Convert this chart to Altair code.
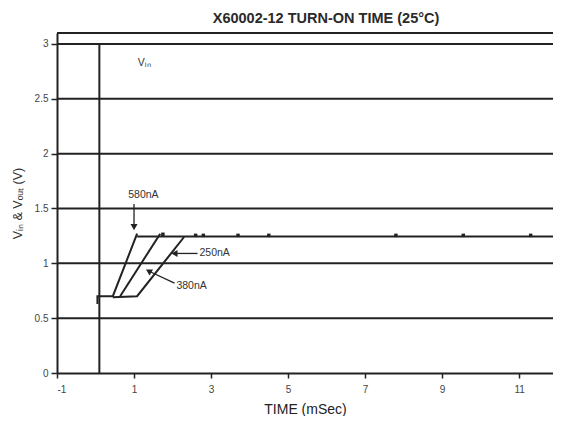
import altair as alt
import pandas as pd

# ---- data ----
grid_levels = [0.5, 1.0, 1.5, 2.0, 2.5, 3.0, 3.1]
x_ticks = [-1, 1, 3, 5, 7, 9, 11]
y_ticks = [0, 0.5, 1, 1.5, 2, 2.5, 3]

vin_x = [0.1, 0.1]
vin_y = [0.0, 3.0]

c580_x = [0.05, 0.05, 0.45, 1.08]
c580_y = [0.63, 0.70, 0.70, 1.27]
c250_x = [0.64, 1.68]
c250_y = [0.70, 1.27]
c380_x = [0.45, 1.08, 2.30]
c380_y = [0.69, 0.70, 1.24]

flat_x = [1.08, 12.2]
flat_y = [1.245, 1.245]

bump_x = [1.75, 2.6, 2.8, 3.7, 4.5, 7.8, 9.55, 11.3]
bump_y = [1.265, 1.255, 1.255, 1.255, 1.255, 1.255, 1.255, 1.255]

labels = ["V\u1d62\u2099", "580nA", "250nA", "380nA"]
label_x = [1.1, 0.85, 2.7, 2.1]
label_y = [2.83, 1.62, 1.09, 0.79]

arrow_x1 = [1.0, 2.65, 2.05]
arrow_y1 = [1.54, 1.09, 0.82]
arrow_x2 = [1.0, 2.05, 1.38]
arrow_y2 = [1.33, 1.09, 0.93]
head_angle = [180, 270, 300]

XD = [-1, 11.88]
YD = [0, 3.1]
xs = alt.Scale(domain=XD, nice=False, zero=False)
ys = alt.Scale(domain=YD, nice=False, zero=False)

INK = "#222222"
FONT = "Liberation Sans"

grid_df = pd.DataFrame({"y": grid_levels})
grid = alt.Chart(grid_df).mark_rule(color=INK, strokeWidth=2).encode(
    y=alt.Y("y:Q", scale=ys, axis=alt.Axis(
        values=y_ticks, title="V\u1d62\u2099 & V\u2092\u1d64\u209c (V)", format="~g",
        labelFontSize=10, titleFontSize=12.5, titleFontWeight="normal",
        tickSize=6, tickColor=INK, tickWidth=1.5,
        domainColor=INK, domainWidth=2, labelColor="#444", titleColor="#333",
        labelPadding=3, titlePadding=10, grid=False, labelFont=FONT, titleFont=FONT)),
    x=alt.value(0), x2=alt.value(496),
)

def line_layer(xv, yv, sw=2):
    df = pd.DataFrame({"x": xv, "y": yv, "o": list(range(len(xv)))})
    return alt.Chart(df).mark_line(color=INK, strokeWidth=sw, clip=True).encode(
        x=alt.X("x:Q", scale=xs), y=alt.Y("y:Q", scale=ys), order="o:O")

xaxis_df = pd.DataFrame({"x": XD})
xaxis = alt.Chart(xaxis_df).mark_point(opacity=0).encode(
    x=alt.X("x:Q", scale=xs, axis=alt.Axis(
        values=x_ticks, title="TIME (mSec)", labelFontSize=10, titleFontSize=14,
        titleFontWeight="normal", labelExpr="'' + datum.value",
        tickSize=5, tickColor=INK, tickWidth=1.5, domainColor=INK, domainWidth=2,
        labelColor="#444", titleColor="#222", labelPadding=6, titlePadding=8,
        grid=False, labelFont=FONT, titleFont=FONT)),
)

vin = line_layer(vin_x, vin_y)
l580 = line_layer(c580_x, c580_y)
l250 = line_layer(c250_x, c250_y)
l380 = line_layer(c380_x, c380_y)
flat = line_layer(flat_x, flat_y)

bump_df = pd.DataFrame({"x": bump_x, "y": bump_y})
bumps = alt.Chart(bump_df).mark_square(color=INK, size=12, opacity=1).encode(
    x=alt.X("x:Q", scale=xs), y=alt.Y("y:Q", scale=ys))

lab_df = pd.DataFrame({"t": labels, "x": label_x, "y": label_y})
texts = alt.Chart(lab_df).mark_text(
    align="left", baseline="middle", fontSize=10.5, font=FONT, color="#333").encode(
    x=alt.X("x:Q", scale=xs), y=alt.Y("y:Q", scale=ys), text="t:N")

arr_df = pd.DataFrame({"x": arrow_x1, "y": arrow_y1, "x2": arrow_x2, "y2": arrow_y2})
arrows = alt.Chart(arr_df).mark_rule(color=INK, strokeWidth=1.3).encode(
    x=alt.X("x:Q", scale=xs), y=alt.Y("y:Q", scale=ys), x2="x2:Q", y2="y2:Q")

head_df = pd.DataFrame({"x": arrow_x2, "y": arrow_y2, "a": head_angle})
heads = alt.Chart(head_df).mark_point(
    shape="triangle-up", filled=True, color=INK, size=50, opacity=1).encode(
    x=alt.X("x:Q", scale=xs), y=alt.Y("y:Q", scale=ys),
    angle=alt.Angle("a:Q", scale=None))

chart = alt.layer(grid, xaxis, vin, l580, l250, l380, flat, bumps, arrows, heads, texts).properties(
    width=496, height=340,
    title=alt.TitleParams("X60002-12 TURN-ON TIME (25°C)", fontSize=14.5, font=FONT,
                          fontWeight="bold", color="#2a2a2a", dx=21, offset=6),
    autosize=alt.AutoSizeParams(type="none"),
    padding={"left": 49, "top": 25, "right": 0, "bottom": 43},
).configure_view(stroke=None)

chart.save("out.html", embed_options={"renderer": "svg", "actions": False})
